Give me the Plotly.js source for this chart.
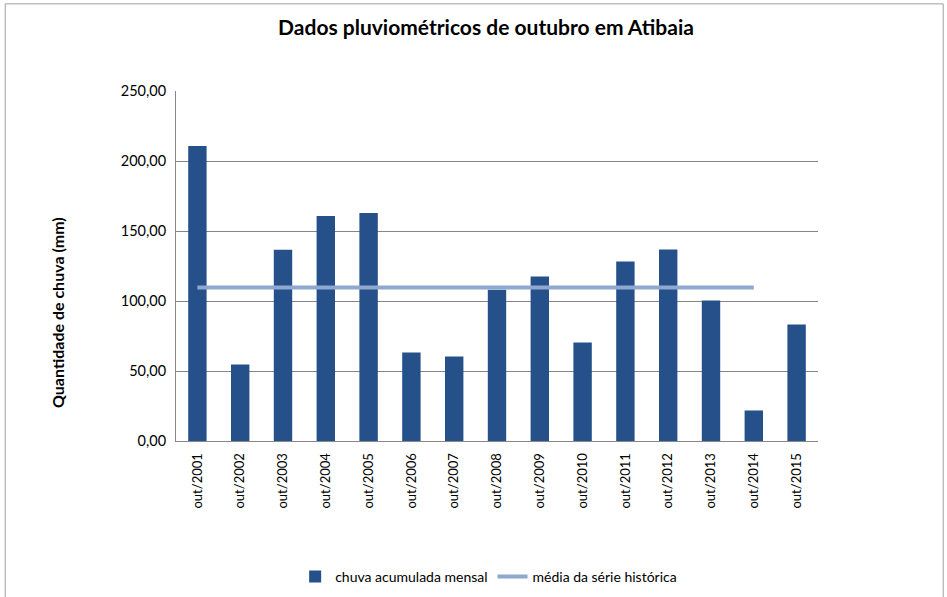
<!DOCTYPE html>
<html>
<head>
<meta charset="utf-8">
<script src="https://cdn.plot.ly/plotly-3.0.1.min.js"></script>
<style>
  html, body { margin: 0; padding: 0; background: #fff; }
  #chart { width: 947px; height: 597px; }
</style>
</head>
<body>
<div id="chart"></div>
<script>
// meses de outubro, 2001–2015
const meses = ['out/2001', 'out/2002', 'out/2003', 'out/2004', 'out/2005', 'out/2006', 'out/2007',
  'out/2008', 'out/2009', 'out/2010', 'out/2011', 'out/2012', 'out/2013', 'out/2014', 'out/2015'];
// chuva acumulada mensal (mm)
const chuva = [210.7, 54.6, 136.6, 160.7, 162.9, 63.2, 60.4, 108.0, 117.5, 70.4, 128.2, 136.8, 100.4, 21.8, 83.2];
// média da série histórica (não vai até 2015)
const media = [109.6, 109.6, 109.6, 109.6, 109.6, 109.6, 109.6, 109.6, 109.6, 109.6, 109.6, 109.6, 109.6, 109.6, null];

const fonte = 'Lato, "Open Sans", sans-serif';

const traces = [
  {
    type: 'bar', x: meses, y: chuva, name: 'chuva acumulada mensal',
    marker: {color: '#25508a'}, width: 0.43
  },
  {
    type: 'scatter', mode: 'lines', x: meses, y: media, name: 'média da série histórica',
    line: {color: '#8ea8d0', width: 4}, connectgaps: false
  }
];

const layout = {
  width: 947, height: 597,
  margin: {l: 176, r: 129, t: 91, b: 156, autoexpand: false},
  paper_bgcolor: '#fff', plot_bgcolor: '#fff',
  separators: ',.',
  font: {family: fonte, size: 13, color: '#000'},
  title: {
    text: '<b>Dados pluviométricos de outubro em Atibaia</b>',
    font: {family: fonte, size: 21, color: '#000'},
    x: 486 / 947, xanchor: 'center', y: 1 - 28 / 597, yanchor: 'middle'
  },
  xaxis: {
    type: 'category', tickangle: -90, tickfont: {size: 13},
    showline: true, linecolor: '#888', linewidth: 1,
    showgrid: false, ticks: '', automargin: false, ticklabelstandoff: 6
  },
  yaxis: {
    range: [0, 250], dtick: 50, tickformat: '.2f', tickfont: {size: 14.5},
    showline: true, linecolor: '#888', linewidth: 1,
    showgrid: true, gridcolor: '#858585', gridwidth: 1,
    zeroline: false, ticks: '', automargin: false, ticklabelstandoff: 6
  },
  annotations: [{
    text: '<b>Quantidade de chuva (mm)</b>', textangle: -90,
    xref: 'paper', yref: 'paper', showarrow: false,
    x: (57 - 176) / 642, y: (441 - 313) / 350, xanchor: 'center', yanchor: 'middle',
    font: {size: 16, color: '#000'}
  }],
  showlegend: true,
  legend: {
    orientation: 'h', x: 0.487, xanchor: 'center',
    yref: 'container', y: 1 - 577 / 597, yanchor: 'middle',
    font: {size: 14}, traceorder: 'normal'
  },
  shapes: [{
    type: 'rect', xref: 'paper', yref: 'paper',
    x0: -0.266, x1: 1.195, y0: -0.6, y1: 1.249,
    line: {color: '#a0a0a0', width: 1}, fillcolor: 'rgba(0,0,0,0)', layer: 'below'
  }],
  bargap: 0.57
};

Plotly.newPlot('chart', traces, layout, {displayModeBar: false, staticPlot: true});
</script>
</body>
</html>
